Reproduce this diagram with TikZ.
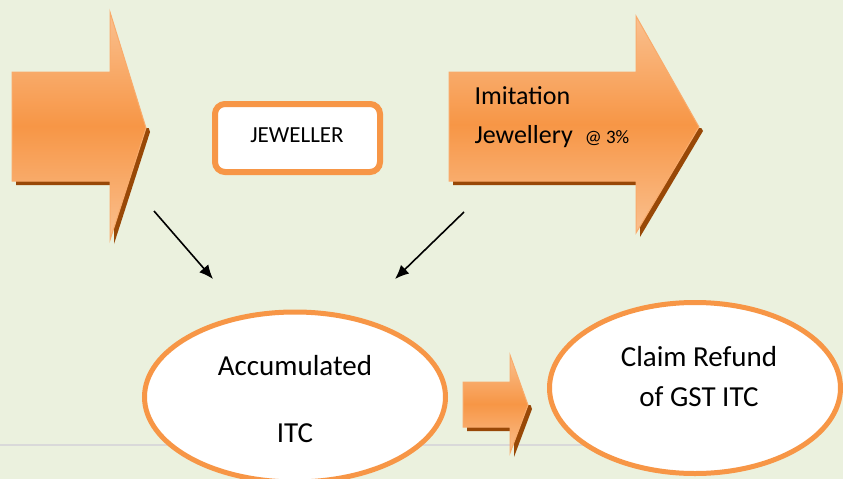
\documentclass[tikz,border=0pt]{standalone}
\usepackage{fontspec}
\setmainfont{Carlito}
\usepackage{tikz}
\usetikzlibrary{arrows.meta, shapes.geometric}

\definecolor{bgGreen}{HTML}{EBF1DE}
\definecolor{accOrange}{HTML}{F79646}
\definecolor{lightOrange}{HTML}{FAC08F}
\definecolor{shadowBrown}{HTML}{984807}

\begin{document}
\begin{tikzpicture}[x=1pt, y=-1pt,
  blockarrow/.style={draw=accOrange!80!white, line width=1pt, top color=lightOrange, bottom color=lightOrange, middle color=accOrange},
  blockshadow/.style={fill=shadowBrown, shift={(4,4)}},
  bubble/.style={ellipse, draw=accOrange, line width=5pt, fill=white, inner sep=0pt},
  flow/.style={-{Latex[length=14pt, width=12pt]}, line width=1.6pt},
  bigtxt/.style={font=\fontsize{29}{35}\selectfont},
  midtxt/.style={font=\fontsize{26}{31}\selectfont}]
\clip (0,0) rectangle (843,479);
\fill[bgGreen] (0,0) rectangle (843,479);
\draw[gray!30, line width=2pt] (0,445) -- (700,445);

% block arrows, shadow only under the lower half
\begin{scope}
\clip (0,128) rectangle (843,260);
\fill[blockshadow] (12,72) -- (110,72) -- (110,12) -- (146,128) -- (110,240) -- (110,181) -- (12,181) -- cycle;
\fill[blockshadow] (449,72) -- (636,72) -- (636,16) -- (699,127) -- (636,233) -- (636,181) -- (449,181) -- cycle;
\end{scope}
\shade[blockarrow] (12,72) -- (110,72) -- (110,12) -- (146,128) -- (110,240) -- (110,181) -- (12,181) -- cycle;
\shade[blockarrow] (449,72) -- (636,72) -- (636,16) -- (699,127) -- (636,233) -- (636,181) -- (449,181) -- cycle;
\begin{scope}
\clip (0,405) rectangle (843,479);
\fill[blockshadow] (463,382) -- (510,382) -- (510,355) -- (528,405) -- (510,453) -- (510,427) -- (463,427) -- cycle;
\end{scope}
\shade[blockarrow] (463,382) -- (510,382) -- (510,355) -- (528,405) -- (510,453) -- (510,427) -- (463,427) -- cycle;

\node[midtxt, anchor=base west] (imit) at (471,104) {Imitation};
\node[midtxt, anchor=base west] (jewl) at (471,143) {Jewellery\hspace{12pt}{\fontsize{19}{23}\selectfont @ 3\%}};

% jeweller box
\node[draw=accOrange, line width=6pt, fill=white, rounded corners=10pt,
  minimum width=165pt, minimum height=68pt] (box) at (297.5,138) {};
\node[font=\fontsize{23}{28}\selectfont, anchor=base] (jeweller) at (297,142) {JEWELLER};

% ellipses
\node[bubble, minimum width=301pt, minimum height=170pt] (accum) at (295,397) {};
\node[bubble, minimum width=291pt, minimum height=171pt] (claim) at (695,388) {};
\node[bigtxt, anchor=base] (acctop) at (295,375) {Accumulated};
\node[bigtxt, anchor=base] (accbot) at (295,442) {ITC};
\node[bigtxt, anchor=base] (clmtop) at (699,366) {Claim Refund};
\node[bigtxt, anchor=base] (clmbot) at (699,406) {of GST ITC};

% connectors
\coordinate (lstart) at (154,211);
\coordinate (lend) at (213,279);
\coordinate (rstart) at (464,212);
\coordinate (rend) at (395,279);
\draw[flow] (lstart) -- (lend);
\draw[flow] (rstart) -- (rend);
\end{tikzpicture}
\end{document}
